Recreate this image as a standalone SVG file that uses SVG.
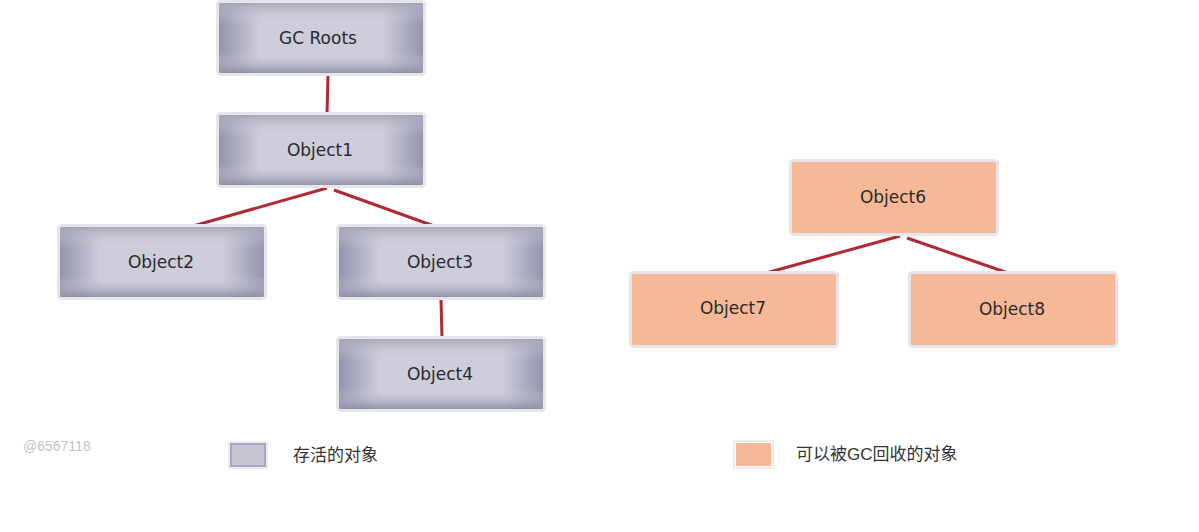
<svg xmlns="http://www.w3.org/2000/svg" width="1199" height="532" viewBox="0 0 1199 532">
<style>
.lbl{font-family:"DejaVu Sans","Liberation Sans",sans-serif;font-size:17px;fill:#2a2a2a;text-anchor:middle;dominant-baseline:central}
.leg{font-family:"Liberation Sans","Noto Sans CJK SC",sans-serif;font-size:17px;fill:#333;dominant-baseline:central}
.frame{fill:none;stroke:#e6e6ea;stroke-width:3}
.conn{stroke:#b02a35;stroke-width:3;fill:none}
</style>
<defs>
<linearGradient id="gh" x1="0" y1="0" x2="1" y2="0">
<stop offset="0" stop-color="#9494ac"/><stop offset="0.2" stop-color="#cdcddb"/><stop offset="0.8" stop-color="#cdcddb"/><stop offset="1" stop-color="#9494ac"/>
</linearGradient>
<linearGradient id="gv" x1="0" y1="0" x2="0" y2="1">
<stop offset="0" stop-color="#a4a4b9" stop-opacity="0.85"/><stop offset="0.3" stop-color="#d6d6e2" stop-opacity="0"/><stop offset="0.7" stop-color="#d6d6e2" stop-opacity="0"/><stop offset="1" stop-color="#8e8ea6" stop-opacity="0.95"/>
</linearGradient>
<g id="gbox">
<rect x="0" y="0" width="204" height="70" fill="url(#gh)"/>
<rect x="0" y="0" width="204" height="70" fill="url(#gv)"/>
<rect x="-1.5" y="-1.5" width="207" height="73" rx="3" class="frame"/>
</g>
</defs>
<rect width="1199" height="532" fill="#ffffff"/>
<g id="connectors">
<line class="conn" x1="328" y1="75" x2="327" y2="114"/>
<line class="conn" x1="327" y1="188" x2="193" y2="226"/>
<line class="conn" x1="334" y1="190" x2="434" y2="226"/>
<line class="conn" x1="441" y1="300" x2="442" y2="338"/>
<line class="conn" x1="900" y1="236" x2="766" y2="273"/>
<line class="conn" x1="907" y1="238" x2="1008" y2="273"/>
</g>
<g id="gcroots"><use href="#gbox" x="219" y="3"/><text class="lbl" x="318" y="38">GC  Roots</text></g>
<g id="object1"><use href="#gbox" x="219" y="115"/><text class="lbl" x="320" y="150">Object1</text></g>
<g id="object2"><use href="#gbox" x="60" y="227"/><text class="lbl" x="161" y="262">Object2</text></g>
<g id="object3"><use href="#gbox" x="339" y="227"/><text class="lbl" x="440" y="262">Object3</text></g>
<g id="object4"><use href="#gbox" x="339" y="339"/><text class="lbl" x="440" y="374">Object4</text></g>
<g id="object6"><rect x="792" y="162" width="204" height="71" fill="#f6b896"/><rect x="790.5" y="160.5" width="207" height="74" rx="3" class="frame"/><text class="lbl" x="893" y="197">Object6</text></g>
<g id="object7"><rect x="632" y="274" width="204" height="71" fill="#f6b896"/><rect x="630.5" y="272.5" width="207" height="74" rx="3" class="frame"/><text class="lbl" x="733" y="308">Object7</text></g>
<g id="object8"><rect x="911" y="274" width="204" height="71" fill="#f6b896"/><rect x="909.5" y="272.5" width="207" height="74" rx="3" class="frame"/><text class="lbl" x="1012" y="309">Object8</text></g>
<g id="legend">
<text x="23" y="446" font-family="Liberation Sans,sans-serif" font-size="14" fill="#c4c4c4" dominant-baseline="central">@6567118</text>
<rect x="231" y="444" width="34" height="22" fill="#c5c5d6" stroke="#a9a9bd" stroke-width="2"/>
<rect x="229" y="442" width="38" height="26" fill="none" stroke="#ececf0" stroke-width="2"/>
<text class="leg" x="293" y="455">存活的对象</text>
<rect x="736" y="443" width="35" height="23" fill="#f6b896"/>
<rect x="734" y="441" width="39" height="27" fill="none" stroke="#f0ece8" stroke-width="2"/>
<text class="leg" x="796" y="454">可以被GC回收的对象</text>
</g>
</svg>
